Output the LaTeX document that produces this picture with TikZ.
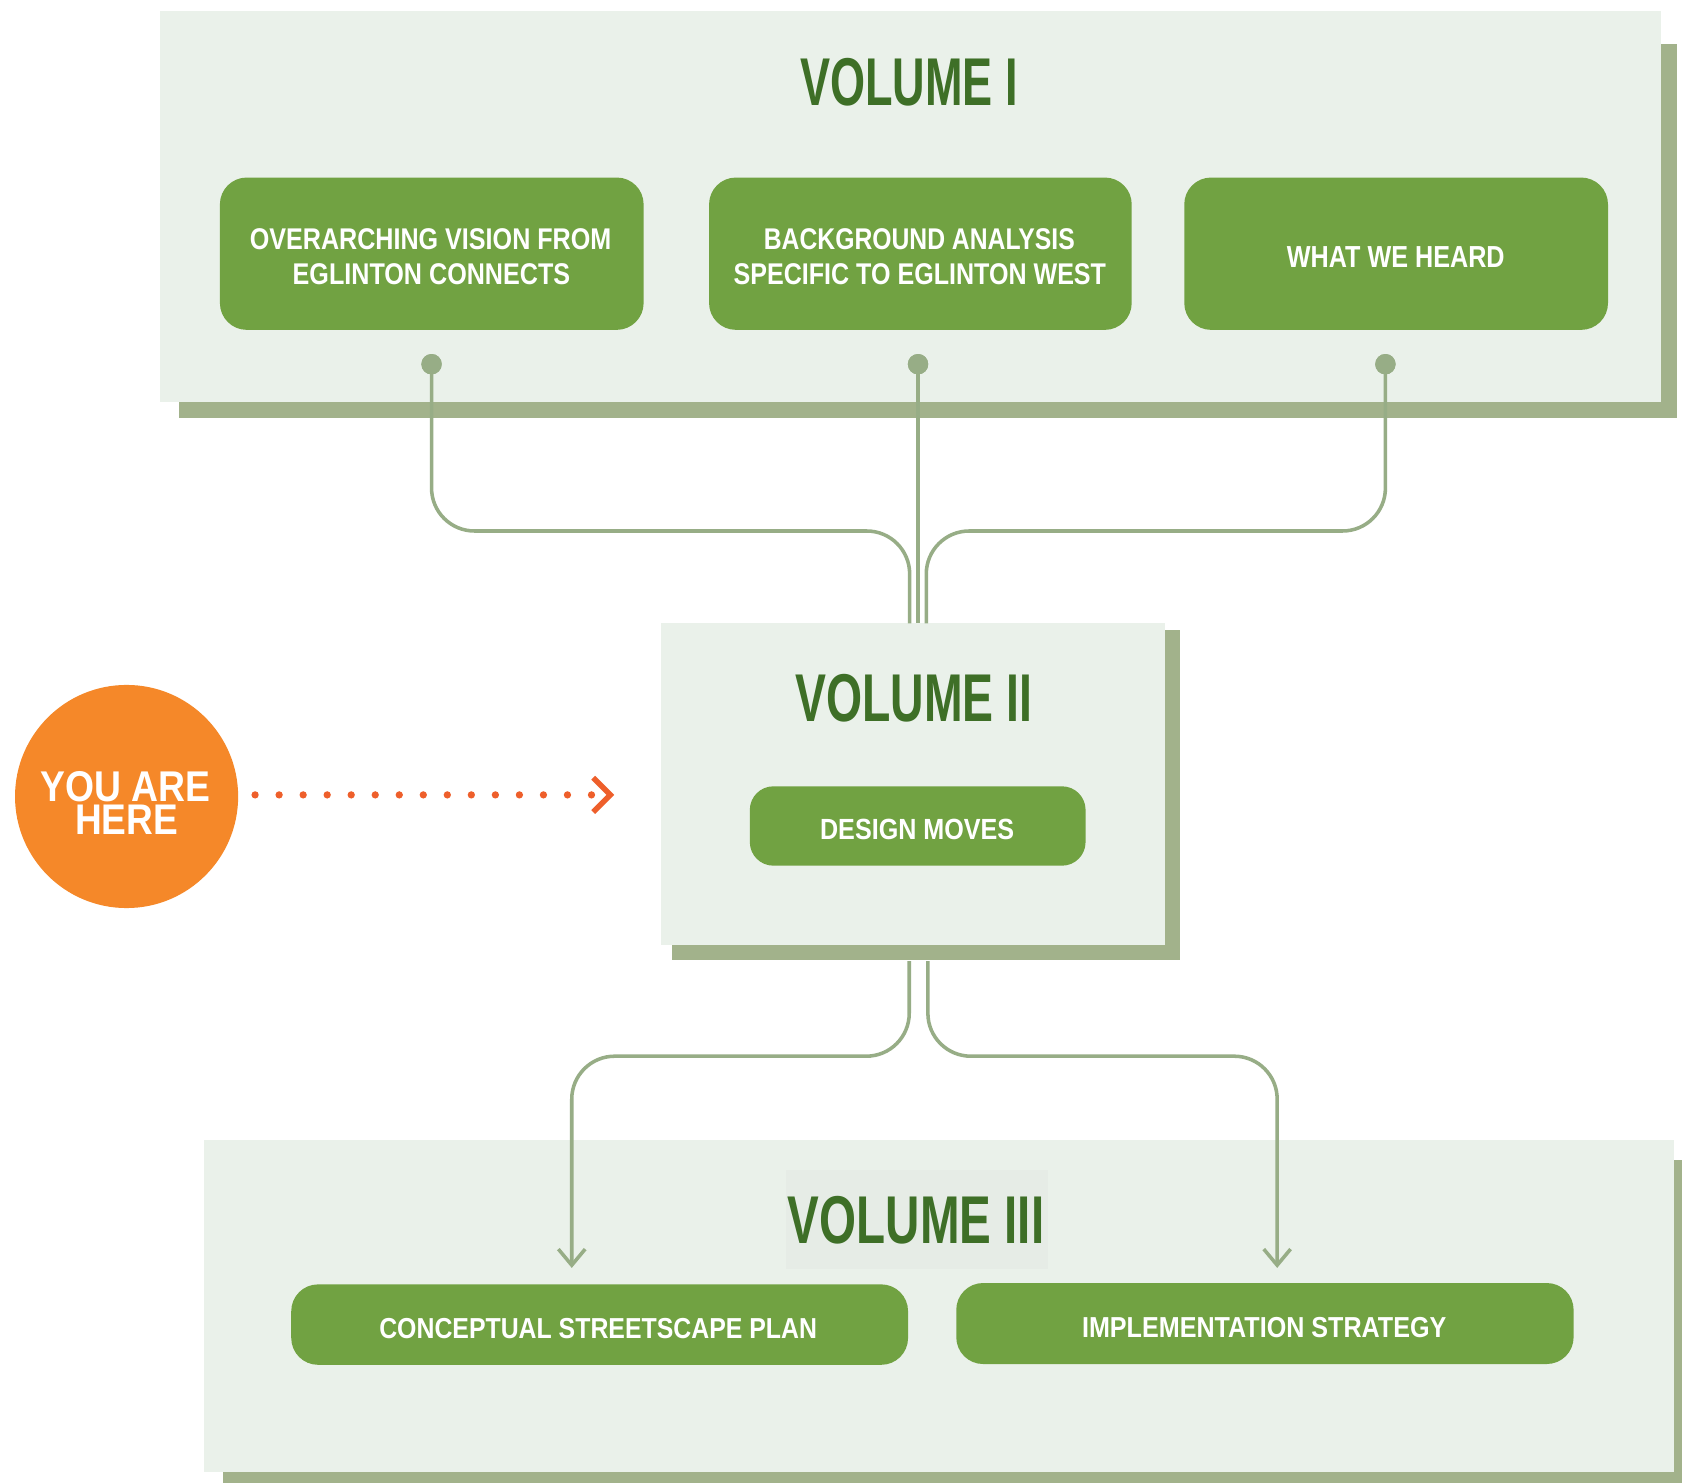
\documentclass[tikz,border=0pt]{standalone}
\usepackage{fontspec}
\setmainfont{Liberation Sans}
\usepackage{graphicx}
\usetikzlibrary{arrows.meta}
\definecolor{panelbg}{HTML}{EAF1EA}
\definecolor{shadowc}{HTML}{A2B28B}
\definecolor{boxg}{HTML}{71A242}
\definecolor{titleg}{HTML}{3E6F27}
\definecolor{linec}{HTML}{97AD86}
\definecolor{orangec}{HTML}{F58829}
\definecolor{redor}{HTML}{EE5F2B}
\definecolor{titlebg}{HTML}{E6ECE6}
\newcommand{\fitt}[3]{\resizebox{#1pt}{#2pt}{\bfseries #3}}
\begin{document}
\begin{tikzpicture}[x=1pt,y=-1pt,
  panel/.style={fill=panelbg, draw=none, inner sep=0pt},
  shadowbox/.style={fill=shadowc, draw=none},
  gbox/.style={fill=boxg, rounded corners=25pt, draw=none, inner sep=0pt},
  titletext/.style={text=titleg, anchor=base, inner sep=0pt},
  wtext/.style={text=white, anchor=base, inner sep=0pt},
  conn/.style={draw=linec, line width=3.3pt, rounded corners=40pt},
  dotn/.style={circle, fill=linec, minimum size=19pt, inner sep=0pt},
  barb/.style={-{Straight Barb[length=15pt,width=25pt]}},
  ]
\useasboundingbox (0,0) rectangle (1568,1382);
\fill[white] (0,0) rectangle (1568,1382);

% ---------- VOLUME I ----------
\fill[shadowbox] (167,41) rectangle (1563.5,390);
\node[panel, minimum width=1399pt, minimum height=365pt] (v1) at (848.5,192.5) {};
\node[titletext] (v1t) at (847.5,98) {\fitt{203}{44}{VOLUME I}};

\node[gbox, minimum width=395pt, minimum height=142pt] (b1) at (402.5,236.5) {};
\node[gbox, minimum width=394pt, minimum height=142pt] (b2) at (858,236.5) {};
\node[gbox, minimum width=395pt, minimum height=142pt] (b3) at (1301.5,236.5) {};
\node[wtext] (b1l1) at (401.4,233) {\fitt{337}{19.5}{OVERARCHING VISION FROM}};
\node[wtext] (b1l2) at (402.2,265) {\fitt{258.7}{19.5}{EGLINTON CONNECTS}};
\node[wtext] (b2l1) at (857,233) {\fitt{289.8}{19.5}{BACKGROUND ANALYSIS}};
\node[wtext] (b2l2) at (857.5,265) {\fitt{347}{19.5}{SPECIFIC TO EGLINTON WEST}};
\node[wtext] (b3l1) at (1301.2,249.2) {\fitt{203}{19.5}{WHAT WE HEARD}};

% ---------- VOLUME II ----------
\fill[shadowbox] (626,587) rectangle (1100,895);
\node[panel, minimum width=470pt, minimum height=300pt] (v2) at (851,731) {};
\node[titletext] (v2t) at (852,673) {\fitt{221}{44}{VOLUME II}};
\node[gbox, rounded corners=22pt, minimum width=313pt, minimum height=74pt] (dm) at (855.5,770) {};
\node[wtext] (dmt) at (855,782.5) {\fitt{181}{19}{DESIGN MOVES}};

% ---------- VOLUME III ----------
\fill[shadowbox] (208,1081) rectangle (1568,1382);
\node[panel, minimum width=1370.6pt, minimum height=309pt] (v3) at (875.3,1217.5) {};
\fill[titlebg] (733,1091) rectangle (977,1183);
\node[titletext] (v3t) at (854,1159) {\fitt{239}{44}{VOLUME III}};
\node[gbox, minimum width=575pt, minimum height=75pt] (c1) at (559,1234.8) {};
\node[gbox, minimum width=575.5pt, minimum height=75.5pt] (c2) at (1179.2,1233.8) {};
\node[wtext] (c1t) at (557.6,1247.6) {\fitt{408}{18.8}{CONCEPTUAL STREETSCAPE PLAN}};
\node[wtext] (c2t) at (1178.5,1246.7) {\fitt{339.5}{18.8}{IMPLEMENTATION STRATEGY}};

% ---------- connectors Vol I -> Vol II ----------
\node[dotn] (d1) at (402.3,339.5) {};
\node[dotn] (d2) at (855.8,339.5) {};
\node[dotn] (d3) at (1291.5,339.5) {};
\coordinate (in1) at (848,581);
\coordinate (in2) at (855.8,581);
\coordinate (in3) at (863.5,581);
\draw[conn] (d1.center) |- (848,495) -- (in1);
\draw[conn] (d2.center) -- (in2);
\draw[conn] (d3.center) |- (863.5,495) -- (in3);
\node[dotn] at (d1) {};
\node[dotn] at (d2) {};
\node[dotn] at (d3) {};

% ---------- connectors Vol II -> Vol III ----------
\coordinate (o1) at (847.6,896);
\coordinate (o2) at (865,896);
\coordinate (t1) at (533,1182);
\coordinate (t2) at (1190.6,1182);
\draw[conn, barb] (o1) |- (533,984.6) -- (t1);
\draw[conn, barb] (o2) |- (1190.6,984.6) -- (t2);

% ---------- YOU ARE HERE ----------
\node[circle, fill=orangec, minimum size=208pt, inner sep=0pt] (you) at (118,742.5) {};
\node[wtext] (you1) at (117,747) {\fitt{158.4}{28}{YOU ARE}};
\node[wtext] (you2) at (118,777.5) {\fitt{96}{27.5}{HERE}};
\coordinate (ds) at (237.8,741);
\coordinate (de) at (551.4,741);
\draw[redor, line width=6.8pt, line cap=round, dash pattern=on 0pt off 22.4pt] (ds) -- (de);
\draw[redor, line width=5pt, miter limit=10] (553,725) -- (569,741) -- (553,757);
\end{tikzpicture}
\end{document}
